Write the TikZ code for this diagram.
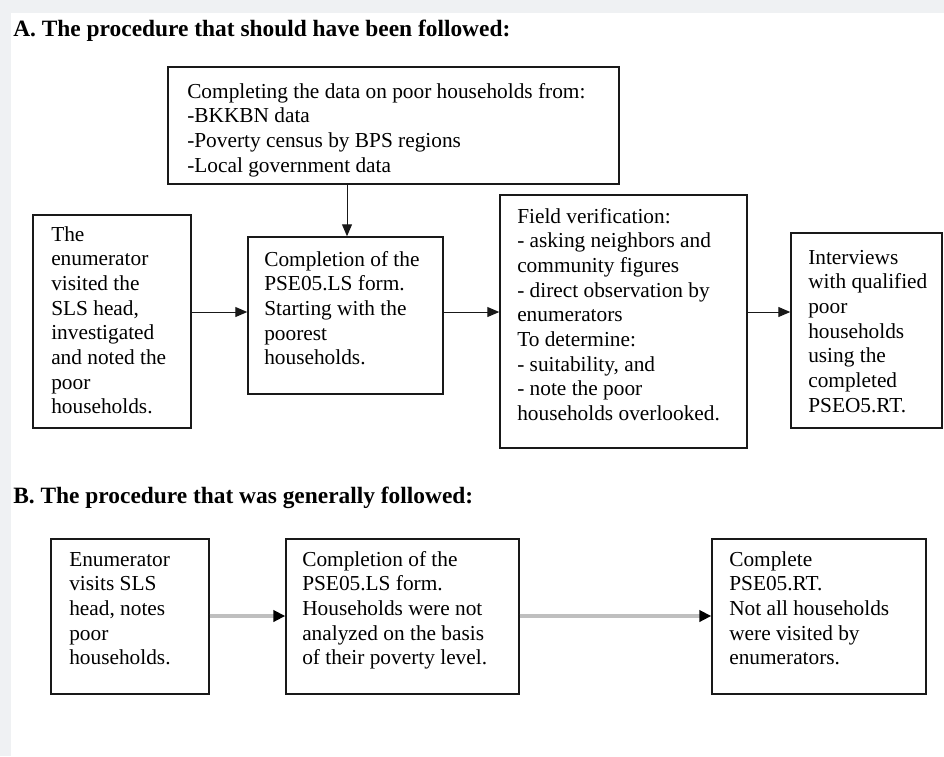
\documentclass[tikz,border=0pt]{standalone}
\usepackage{fontspec}
\setmainfont{Liberation Serif}
\usetikzlibrary{arrows.meta,fit}
\definecolor{bggray}{RGB}{239,241,243}
\definecolor{ink}{RGB}{25,25,25}
\begin{document}
\begin{tikzpicture}[x=0.75pt,y=-0.75pt,
  box/.style={draw=ink, line width=1.1pt, inner sep=0pt},
  txt/.style={anchor=north west, align=left, inner sep=0pt, font=\fontsize{16}{18.5}\selectfont, text=black},
  ttl/.style={anchor=base west, inner sep=0pt, font=\bfseries\fontsize{17.55}{20}\selectfont, text=black},
  arrA/.style={-{Triangle[length=9pt,width=7.5pt]}, line width=0.75pt, draw=ink},
  arrB/.style={-{Triangle[length=9pt,width=8.5pt,color=black]}, line width=2.6pt, draw=gray!50},
]
\useasboundingbox (0,0) rectangle (944,756);
\fill[bggray] (0,0) rectangle (944,756);
\fill[white] (11,13) rectangle (944,756);

% titles
\node[ttl] (tA) at (13,37) {A. The procedure that should have been followed:};
\node[ttl] (tB) at (13,503) {B. The procedure that was generally followed:};

% section A boxes
\node[box, fit={(168,67) (619,184)}] (top) {};
\node[box, fit={(33,215) (191,428)}] (a1) {};
\node[box, fit={(248,237) (443,394)}] (a2) {};
\node[box, fit={(500,195) (747,448)}] (a3) {};
\node[box, fit={(791,233) (942,428)}] (a4) {};

\node[txt] (topt) at (187,80.7) {\strut Completing the data on poor households from:\\-BKKBN data\\-Poverty census by BPS regions\\-Local government data};
\node[txt] (a1t) at (51,223.7) {\strut The\\enumerator\\visited the\\SLS head,\\investigated\\and noted the\\poor\\households.};
\node[txt] (a2t) at (264,248.7) {\strut Completion of the\\PSE05.LS form.\\Starting with the\\poorest\\households.};
\node[txt] (a3t) at (517,205.7) {\strut Field verification:\\- asking neighbors and\\community figures\\- direct observation by\\enumerators\\To determine:\\- suitability, and\\- note the poor\\households overlooked.};
\node[txt] (a4t) at (808,246.7) {\strut Interviews\\with qualified\\poor\\households\\using the\\completed\\PSEO5.RT.};

% section B boxes
\node[box, fit={(51,539) (209,694)}] (b1) {};
\node[box, fit={(286,539) (519,694)}] (b2) {};
\node[box, fit={(712,539) (926,694)}] (b3) {};

\node[txt] (b1t) at (69,548.7) {\strut Enumerator\\visits SLS\\head, notes\\poor\\households.};
\node[txt] (b2t) at (302,548.7) {\strut Completion of the\\PSE05.LS form.\\Households were not\\analyzed on the basis\\of their poverty level.};
\node[txt] (b3t) at (729,548.7) {\strut Complete\\PSE05.RT.\\Not all households\\were visited by\\enumerators.};

% connectors
\coordinate (rowA) at (0,312);
\coordinate (colA) at (347,0);
\draw[arrA] (top.south -| colA) -- (a2.north -| colA);
\draw[arrA] (a1.east |- rowA) -- (a2.west |- rowA);
\draw[arrA] (a2.east |- rowA) -- (a3.west |- rowA);
\draw[arrA] (a3.east |- rowA) -- (a4.west |- rowA);

\coordinate (rowB) at (0,616);
\draw[arrB] (b1.east |- rowB) -- (b2.west |- rowB);
\draw[arrB] (b2.east |- rowB) -- (b3.west |- rowB);
\end{tikzpicture}
\end{document}
